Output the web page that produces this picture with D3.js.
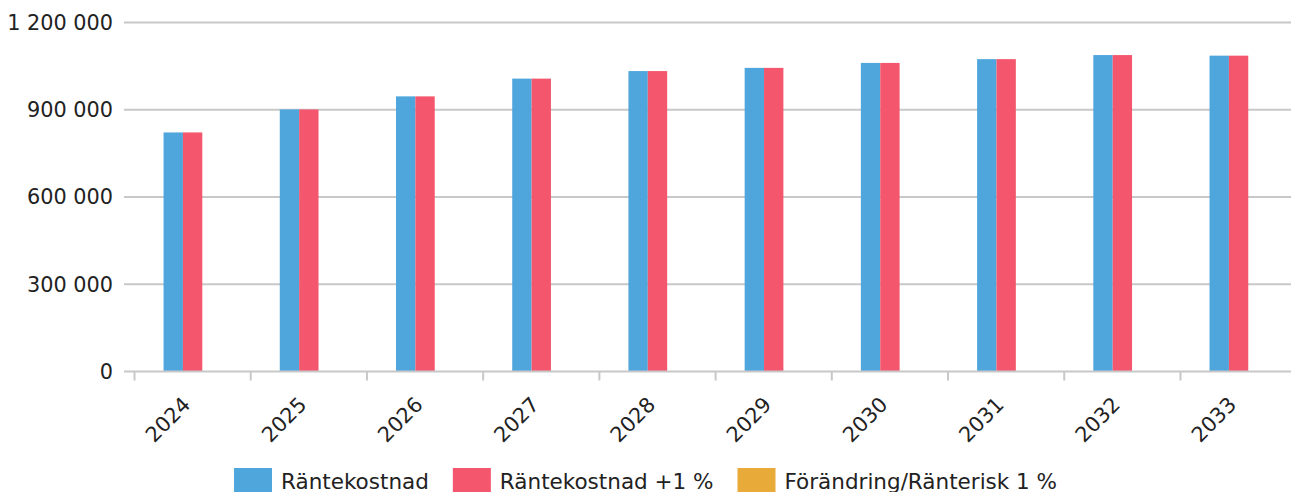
<!DOCTYPE html>
<html>
<head>
  <meta charset="utf-8">
  <title>Räntekostnad</title>
  <style>
    body { margin: 0; background: #fff; }
    text { font-family: "DejaVu Sans", sans-serif; fill: #222; }
  </style>
  <script src="https://d3js.org/d3.v7.min.js"></script>
</head>
<body>
<svg width="1291" height="492"></svg>
<script>
// data
var years = ["2024", "2025", "2026", "2027", "2028", "2029", "2030", "2031", "2032", "2033"];
var seriesNames = ["Räntekostnad", "Räntekostnad +1 %", "Förändring/Ränterisk 1 %"];
var rantekostnad = [822000, 901000, 946000, 1007000, 1033000, 1044000, 1061000, 1074000, 1088000, 1086000];
var rantekostnadPlus = [822000, 901000, 946000, 1007000, 1033000, 1044000, 1061000, 1074000, 1088000, 1086000];
var forandring = [0, 0, 0, 0, 0, 0, 0, 0, 0, 0];
var yTicks = [0, 300000, 600000, 900000, 1200000];
var colors = ["#4fa6dc", "#f4576d", "#e8ab3a"];

var allSeries = [rantekostnad, rantekostnadPlus, forandring];

var svg = d3.select("svg");
var fmt = d3.formatLocale({ decimal: ",", thousands: " ", grouping: [3], currency: ["", ""] }).format(",");

var x = d3.scaleBand().domain(years).range([134.5, 1296.7]);
var x1 = d3.scaleBand().domain(seriesNames).range([x.bandwidth() * 0.25, x.bandwidth() * 0.75]);
var y = d3.scaleLinear().domain([0, 1200000]).range([371.5, 22.5]);

// grid
svg.append("g").selectAll("line")
  .data(yTicks.slice(1))
  .enter().append("line")
  .attr("x1", 124).attr("x2", 1291)
  .attr("y1", function(d) { return y(d); })
  .attr("y2", function(d) { return y(d); })
  .attr("stroke", "#c8c8c8").attr("stroke-width", 2);

// y labels
svg.append("g").selectAll("text")
  .data(yTicks)
  .enter().append("text")
  .attr("x", 113)
  .attr("y", function(d) { return y(d); })
  .attr("dy", "0.36em")
  .attr("text-anchor", "end")
  .attr("font-size", "20.8px")
  .text(function(d) { return fmt(d); });

// bars
var groups = svg.append("g").selectAll("g")
  .data(years)
  .enter().append("g")
  .attr("transform", function(d) { return "translate(" + x(d) + ",0)"; });

groups.selectAll("rect")
  .data(function(d, i) { return seriesNames.map(function(s, j) { return { s: s, v: allSeries[j][i], c: colors[j] }; }); })
  .enter().append("rect")
  .attr("x", function(d) { return x1(d.s); })
  .attr("width", x1.bandwidth())
  .attr("y", function(d) { return y(d.v); })
  .attr("height", function(d) { return y(0) - y(d.v); })
  .attr("fill", function(d) { return d.c; });

// x axis
svg.append("line")
  .attr("x1", 124).attr("x2", 1291)
  .attr("y1", y(0)).attr("y2", y(0))
  .attr("stroke", "#c8c8c8").attr("stroke-width", 2);

svg.append("g").selectAll("line")
  .data(years)
  .enter().append("line")
  .attr("x1", function(d) { return x(d); })
  .attr("x2", function(d) { return x(d); })
  .attr("y1", y(0)).attr("y2", y(0) + 9)
  .attr("stroke", "#c8c8c8").attr("stroke-width", 2);

svg.append("g").selectAll("text")
  .data(years)
  .enter().append("text")
  .attr("text-anchor", "end")
  .attr("font-size", "20.8px")
  .attr("transform", function(d) { return "translate(" + (x(d) + x.bandwidth() / 2 - 1) + ",406) rotate(-45)"; })
  .text(function(d) { return d; });

// legend
var lx = 234;
seriesNames.forEach(function(s, i) {
  svg.append("rect")
    .attr("x", lx).attr("y", 468)
    .attr("width", 38).attr("height", 38)
    .attr("fill", colors[i]);
  var t = svg.append("text")
    .attr("x", lx + 47).attr("y", 489)
    .attr("font-size", "21.5px")
    .text(s);
  lx += 47 + t.node().getComputedTextLength() + 24;
});
</script>
</body>
</html>
